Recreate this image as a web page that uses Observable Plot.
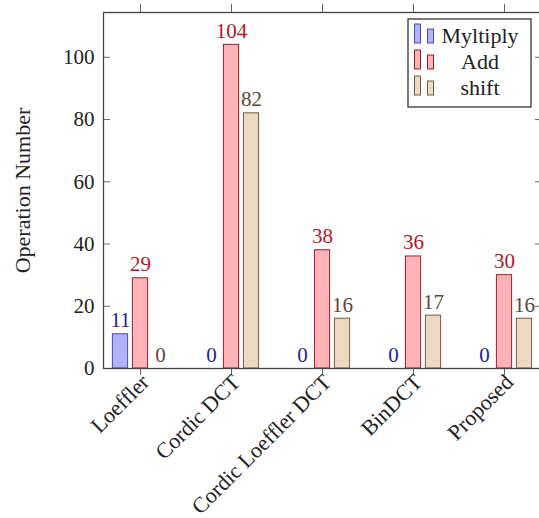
<!DOCTYPE html>
<html><head><meta charset="utf-8">
<script src="https://cdn.jsdelivr.net/npm/d3@7"></script>
<script src="https://cdn.jsdelivr.net/npm/@observablehq/plot@0.6"></script>
<style>
body{margin:0;background:#fff}
#wrap{position:relative;width:539px;height:518px;overflow:hidden;font-family:'Liberation Serif'}
#legend{position:absolute;left:0;top:0}
</style></head><body><div id="wrap"></div>
<script>
const categories = ["Loeffler","Cordic DCT","Cordic Loeffler DCT","BinDCT","Proposed"];
const seriesNames = ["Myltiply","Add","shift"];
const multiplyValues = [11,0,0,0,0];
const addValues = [29,104,38,36,30];
const shiftValues = [0,82,16,17,16];
const yTicks = [0,20,40,60,80,100];

const FONT = "Liberation Serif";
const fills = ["#b3b3f7","#ffb3b6","#ecd9c4"];
const strokes = ["#4848c0","#9a1c2c","#7a5a3c"];
const labelColors = ["#24248e","#b3172b","#5a4836"];
const offsets = [-20,0,20];
const seriesValues = [multiplyValues, addValues, shiftValues];

const rowsFor = (vals) => categories.map((c,i)=>({cat:c, value:vals[i]}));

const marks = [];
seriesValues.forEach((vals, s) => {
  const rows = rowsFor(vals);
  marks.push(Plot.barY(rows, {x:"cat", y:"value", fill:fills[s], stroke:strokes[s], strokeWidth:1,
    dx:offsets[s], insetLeft:15.4, insetRight:15.4}));
});
seriesValues.forEach((vals, s) => {
  const rows = rowsFor(vals);
  marks.push(Plot.text(rows, {x:"cat", y:"value", text:d=>String(d.value), dx:offsets[s], dy:-7,
    lineAnchor:"bottom", fill:labelColors[s], fontSize:21, fontFamily:FONT}));
});

const chart = Plot.plot({
  width:539, height:518,
  marginLeft:103, marginRight:-2, marginTop:12, marginBottom:150,
  style:{fontFamily:FONT, fontSize:"21px", color:"#222", background:"#fff"},
  x:{type:"band", domain:categories, paddingInner:0.5, paddingOuter:0.143},
  y:{domain:[0,114.4]},
  marks:[
    ...marks,
    Plot.axisY({anchor:"left", ticks:yTicks, tickSize:-7, tickPadding:16, fontSize:21, stroke:"#666", label:null}),
    Plot.axisY({anchor:"left", ticks:[], tickSize:0, fontSize:22,
      label:"Operation Number", labelAnchor:"center", labelArrow:"none", labelOffset:89}),
    Plot.axisY({anchor:"right", ticks:yTicks, tickSize:-7, tickFormat:()=>"", label:null, stroke:"#666"}),
    Plot.axisX({anchor:"top", tickSize:9, tickFormat:()=>"", label:null, stroke:"#666"}),
    Plot.axisX({anchor:"bottom", tickSize:7, tickFormat:()=>"", label:null, stroke:"#666"}),
    Plot.axisX({anchor:"bottom", tickSize:0, tickRotate:-45, fontSize:22, label:null, tickPadding:10, dx:5}),
    Plot.frame({stroke:"#444", strokeWidth:1.3})
  ]
});
d3.select(chart).attr("font-family", FONT).style("font-family", FONT);
const wrap = document.getElementById("wrap");
wrap.appendChild(chart);

// legend
const lg = d3.select(wrap).append("svg").attr("id","legend").attr("width",539).attr("height",518);
const box = lg.append("g").attr("transform","translate(408,19)");
box.append("rect").attr("x",0).attr("y",0).attr("width",123).attr("height",88)
  .attr("fill","#fff").attr("stroke","#333").attr("stroke-width",1.3);
seriesNames.forEach((name, s) => {
  const base = 24 + s*26;
  box.append("rect").attr("x",6.5).attr("y",base-19).attr("width",6).attr("height",19)
    .attr("fill",fills[s]).attr("stroke",strokes[s]);
  box.append("rect").attr("x",19.5).attr("y",base-14).attr("width",6).attr("height",14)
    .attr("fill",fills[s]).attr("stroke",strokes[s]);
  box.append("text").attr("x",72).attr("y",base).attr("text-anchor","middle")
    .attr("font-size",22).attr("font-family",FONT).attr("fill","#222").text(name);
});
</script>
</body></html>
